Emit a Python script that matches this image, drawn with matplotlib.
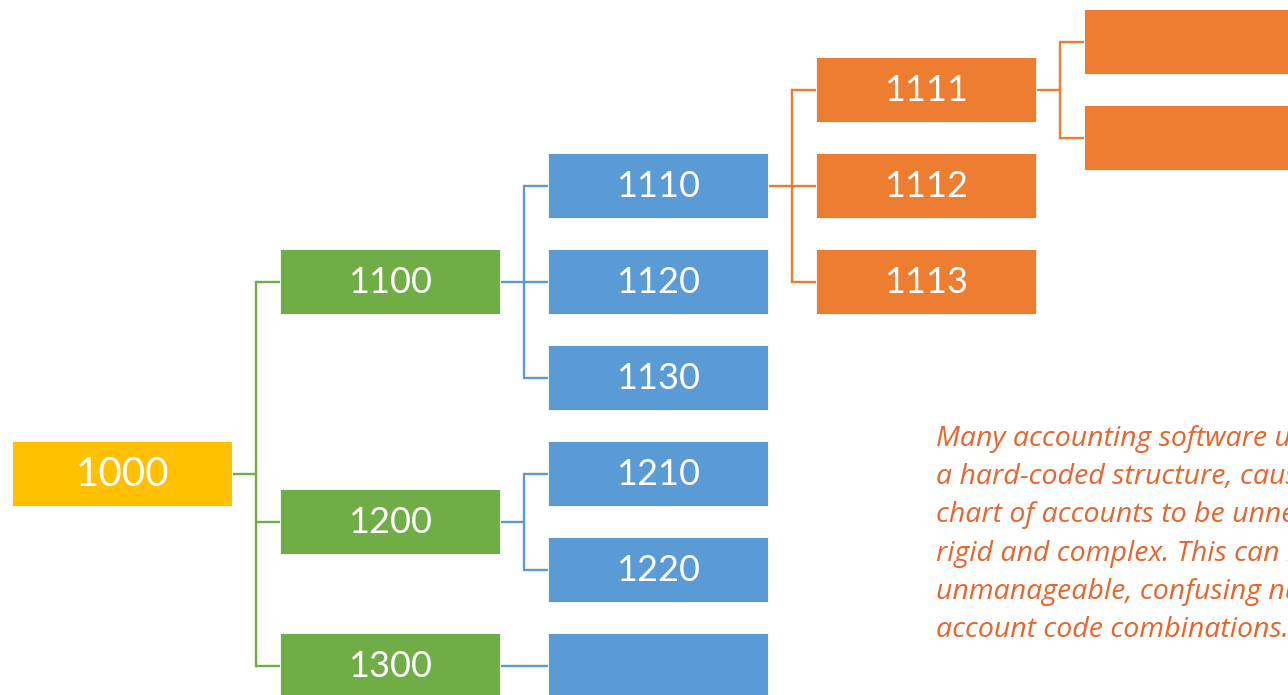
import matplotlib.pyplot as plt
from matplotlib.patches import Rectangle

# tree of account codes (blank label = empty box)
node_ids = ['1000', '1100', '1200', '1300', '1110', '1120', '1130', '1210', '1220',
            '1310', '1111', '1112', '1113', '11111', '11112']
node_labels = ['1000', '1100', '1200', '1300', '1110', '1120', '1130', '1210', '1220',
               '', '1111', '1112', '1113', '', '']
node_parents = [None, '1000', '1000', '1000', '1100', '1100', '1100', '1200', '1200',
                '1300', '1110', '1110', '1110', '1111', '1111']

# the note runs off the right edge of the picture, as in the original
note_lines = [
    "Many accounting software uses",
    "a hard-coded structure, causing the",
    "chart of accounts to be unnecessarily",
    "rigid and complex. This can lead to",
    "unmanageable, confusing numbers of",
    "account code combinations.",
]

level_colors = ['#FFC000', '#70AD47', '#5B9BD5', '#ED7D31', '#ED7D31']
note_color = '#E8652D'

# ---- layout ----
parent = dict(zip(node_ids, node_parents))
label = dict(zip(node_ids, node_labels))
children = {n: [c for c in node_ids if parent[c] == n] for n in node_ids}
depth = {}
for n in node_ids:
    d, p = 0, parent[n]
    while p is not None:
        d, p = d + 1, parent[p]
    depth[n] = d

anchor = 2
row = {}
for i, n in enumerate([n for n in node_ids if depth[n] == anchor]):
    row[n] = i
for d in range(anchor - 1, -1, -1):
    for n in node_ids:
        if depth[n] == d and children[n]:
            row[n] = (row[children[n][0]] + row[children[n][-1]]) / 2
for d in range(anchor, max(depth.values())):
    for n in node_ids:
        if depth[n] == d:
            k = len(children[n])
            for i, c in enumerate(children[n]):
                row[c] = row[n] + i - (k - 1) / 2
shift = min(row.values())
row = {n: r - shift for n, r in row.items()}

x_left, col_step, box_w = 12, 268, 220
y_top, row_step, box_h = 9, 96, 65
gap = 24


def box(n):
    x0 = x_left + col_step * depth[n]
    y0 = y_top + row_step * row[n]
    return x0, y0


fig = plt.figure(figsize=(12.88, 6.95), dpi=100)
ax = fig.add_axes([0, 0, 1, 1])
ax.set_xlim(0, 1288)
ax.set_ylim(695, 0)
ax.axis('off')

# connectors
for n in node_ids:
    kids = children[n]
    if not kids:
        continue
    px, py = box(n)
    xr = px + box_w
    yc = py + box_h / 2
    col = level_colors[depth[kids[0]]]
    cx = box(kids[0])[0]
    cys = [box(c)[1] + box_h / 2 for c in kids]
    if len(kids) == 1:
        ax.plot([xr, cx], [yc, yc], color=col, lw=1.7, solid_capstyle='butt')
        continue
    xm = cx - gap
    ax.plot([xr, xm], [yc, yc], color=col, lw=1.7, solid_capstyle='butt')
    ax.plot([xm, xm], [min(cys), max(cys)], color=col, lw=1.7, solid_capstyle='projecting')
    for cy in cys:
        ax.plot([xm, cx], [cy, cy], color=col, lw=1.7, solid_capstyle='butt')

# boxes
for n in node_ids:
    x0, y0 = box(n)
    ax.add_patch(Rectangle((x0, y0), box_w, box_h, facecolor=level_colors[depth[n]],
                           edgecolor='white', lw=0.6, zorder=3))
    if label[n]:
        size = 29 if depth[n] == 0 else 26
        ax.text(x0 + box_w / 2, y0 + box_h / 2 + 1, label[n], color='white',
                fontsize=size, family='Lato', ha='center', va='center', zorder=4)

# note
for i, line in enumerate(note_lines):
    ax.text(936, 446 + 38.2 * i, line, color=note_color, fontsize=20.5,
            family='Open Sans', style='italic', ha='left', va='baseline')

fig.savefig('out.png', dpi=100)
